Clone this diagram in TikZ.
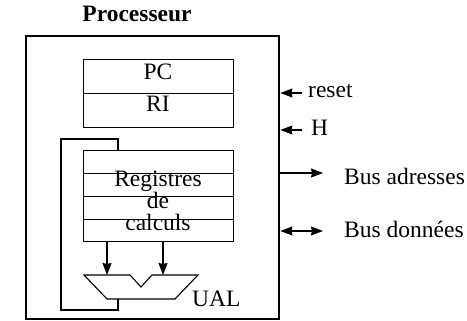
\documentclass[tikz,border=0pt]{standalone}
\usepackage{fontspec}
\setmainfont{Liberation Serif}
\usetikzlibrary{arrows.meta}
\begin{document}
\begin{tikzpicture}[x=1pt,y=-1pt,
  lbl/.style={inner sep=0pt, font=\fontsize{23.5}{25}\selectfont},
  ttl/.style={inner sep=0pt, font=\fontsize{23.5}{25}\selectfont\bfseries},
  cell/.style={draw, line width=1.1pt, inner sep=0pt, minimum width=150pt, anchor=north west},
  wire/.style={line width=1.1pt},
  arr/.style={line width=1.1pt, -{Stealth[length=12pt,width=9pt,inset=1pt]}},
  darr/.style={line width=1.1pt, {Stealth[length=12pt,width=9pt,inset=1pt]}-{Stealth[length=12pt,width=9pt,inset=1pt]}}]
\useasboundingbox (0,0) rectangle (467,321);

% processor outline and title
\node[draw, line width=2.4pt, inner sep=0pt, minimum width=253pt, minimum height=283pt, anchor=north west] (cpu) at (25,35) {};
\node[ttl, anchor=base] (title) at (137,22) {Processeur};

% PC / RI registers
\node[cell, minimum height=34pt] (pc) at (83,59) {};
\node[cell, minimum height=34pt] (ri) at (83,93) {};
\node[lbl, anchor=base] (pct) at (158,80) {PC};
\node[lbl, anchor=base] (rit) at (158,112) {RI};

% register file
\node[cell, minimum height=23pt] (r1) at (83,150) {};
\node[cell, minimum height=23pt] (r2) at (83,173) {};
\node[cell, minimum height=23pt] (r3) at (83,196) {};
\node[cell, minimum height=22pt] (r4) at (83,219) {};
\node[lbl, anchor=base, text depth=0pt] (rt1) at (158,187) {Registres};
\node[lbl, anchor=base, text height=12pt] (rt2) at (158,209) {de};
\node[lbl, anchor=base] (rt3) at (158,231) {calculs};

% ALU
\coordinate (aluA) at (107,275);
\coordinate (aluB) at (163,275);
\draw[wire, line join=miter] (84,275) -- (130,275) -- (141,287) -- (152,275) -- (198,275)
  -- (175,299) -- (107,299) -- cycle;
\node[lbl, anchor=base west] (ual) at (192,307) {UAL};
\draw[arr] (r4.south -| aluA) -- (aluA);
\draw[arr] (r4.south -| aluB) -- (aluB);

% feedback from ALU output to the register file
\coordinate (fbin) at (118,299);
\coordinate (fbout) at (118,150);
\draw[wire] (fbin) -- (118,310) -- (61,310) -- (61,139) -- (118,139) -- (fbout);

% external signals
\coordinate (rs) at (302,93);
\coordinate (hk) at (302,130);
\coordinate (ba) at (323,173);
\coordinate (bd) at (323,231);
\draw[arr] (rs) -- (rs -| cpu.east);
\draw[arr] (hk) -- (hk -| cpu.east);
\draw[arr] (ba -| cpu.east) -- (ba);
\draw[darr] (bd -| cpu.east) -- (bd);
\node[lbl, anchor=base west] (rst) at (308,98) {reset};
\node[lbl, anchor=base west] (ht) at (311,136) {H};
\node[lbl, anchor=base west] (bat) at (344,185) {Bus adresses};
\node[lbl, anchor=base west] (bdt) at (344,238) {Bus données};
\end{tikzpicture}
\end{document}
